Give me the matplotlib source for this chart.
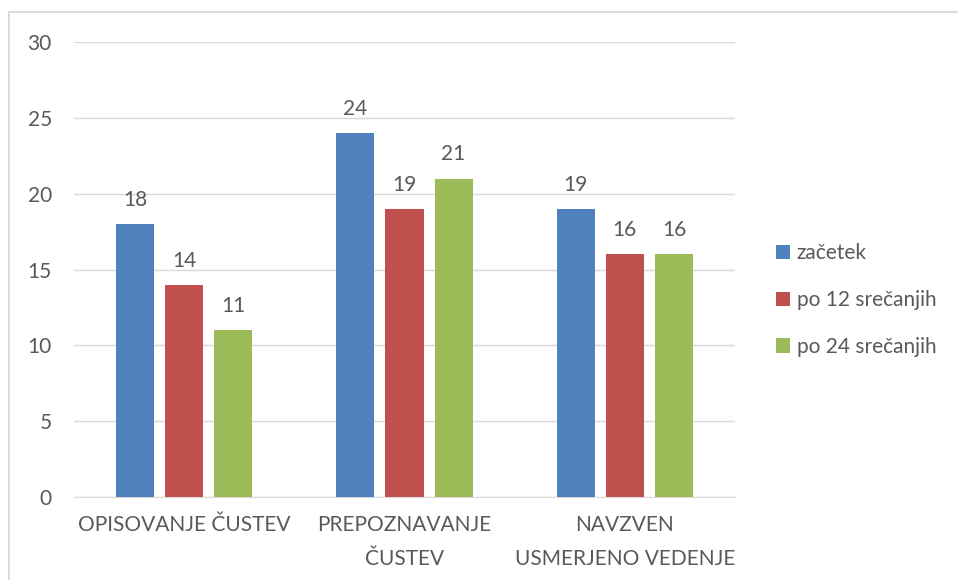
import matplotlib
matplotlib.use("Agg")
import matplotlib.pyplot as plt
import numpy as np
from matplotlib.patches import Rectangle

categories = ["OPISOVANJE ČUSTEV", "PREPOZNAVANJE\nČUSTEV", "NAVZVEN\nUSMERJENO VEDENJE"]
series_names = ["začetek", "po 12 srečanjih", "po 24 srečanjih"]
zacetek = [18, 24, 19]
po12 = [14, 19, 16]
po24 = [11, 21, 16]
yticks = [0, 5, 10, 15, 20, 25, 30]

colors = ["#4F81BD", "#C0504D", "#9BBB59"]
text_color = "#595959"
grid_color = "#D9D9D9"

plt.rcParams["font.family"] = ["Lato", "DejaVu Sans"]
fs = 15

fig = plt.figure(figsize=(9.58, 5.8), dpi=100)
ax = fig.add_axes([74/958, 1-497/580, 661/958, 455/580])

x = np.arange(len(categories))
width = 38/220
step = 49/220
for i, (vals, name, c) in enumerate(zip([zacetek, po12, po24], series_names, colors)):
    bars = ax.bar(x + (i-1)*step, vals, width, color=c, label=name, zorder=3)
    for b, v in zip(bars, vals):
        ax.annotate(str(v), (b.get_x()+b.get_width()/2, v), xytext=(0, 13),
                    textcoords="offset points", ha="center", va="baseline",
                    fontsize=fs, color=text_color)

ax.set_xlim(-0.5, 2.5)
ax.set_ylim(0, 30)
ax.set_yticks(yticks)
ax.set_xticks(x)
ax.set_xticklabels(categories, linespacing=1.85)
ax.grid(axis="y", color=grid_color, linewidth=1, zorder=0)
for s in ["top", "right", "left"]:
    ax.spines[s].set_visible(False)
ax.spines["bottom"].set_color(grid_color)
ax.tick_params(axis="both", length=0, labelsize=fs, colors=text_color)
ax.tick_params(axis="y", pad=16)
ax.tick_params(axis="x", pad=13)

leg = ax.legend(loc="center left", bbox_to_anchor=(776/958, 1-300/580),
                bbox_transform=fig.transFigure, frameon=False, fontsize=fs,
                handlelength=0.67, handleheight=0.67, handletextpad=0.33,
                labelspacing=1.29, borderaxespad=0, borderpad=0)
for t in leg.get_texts():
    t.set_color(text_color)

fig.patches.append(Rectangle((9/958, -0.1), 1.2, 1-12/580+0.1, transform=fig.transFigure,
                             fill=False, edgecolor="#D9D9D9", linewidth=1.3))

fig.savefig("out.png", dpi=100)
